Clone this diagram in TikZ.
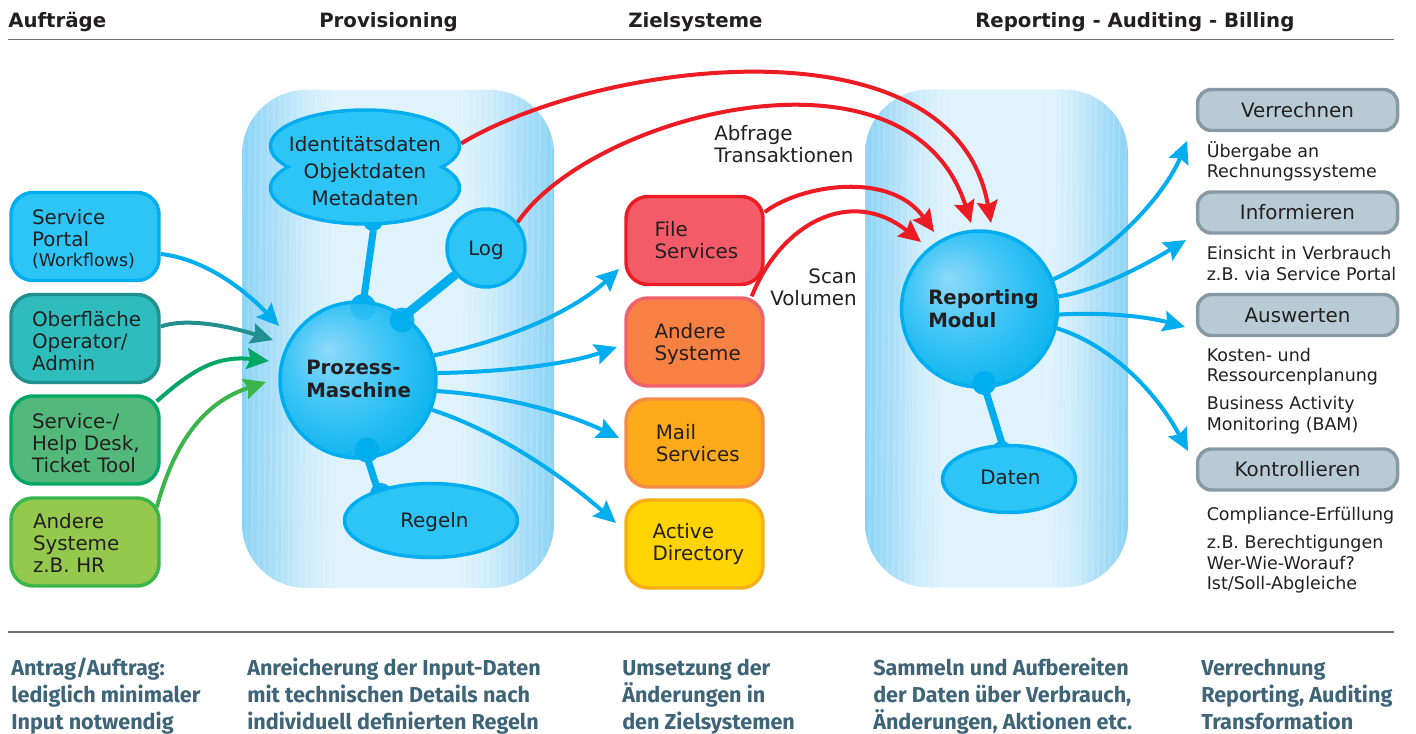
\documentclass[tikz,border=0pt]{standalone}
\usepackage{fontspec}
\setmainfont{DejaVu Sans}
\newfontfamily\metafont{Fira Sans}
\usetikzlibrary{arrows.meta,shapes.geometric,calc}
\definecolor{ink}{HTML}{231F20}
\definecolor{sky}{HTML}{00AEEF}
\definecolor{skyfill}{HTML}{2CC5F6}
\definecolor{pedge}{HTML}{8AD3F5}
\definecolor{pmid}{HTML}{A9DEF8}
\definecolor{plite}{HTML}{CBEBFB}
\definecolor{pcore}{HTML}{E0F3FD}
\definecolor{balla}{HTML}{8EDAF9}
\definecolor{ballb}{HTML}{3FC5F6}
\definecolor{ballc}{HTML}{0FB5EE}
\definecolor{redline}{HTML}{ED1C24}
\definecolor{tealline}{HTML}{21908F}
\definecolor{tealfill}{HTML}{2FBCBC}
\definecolor{greenline}{HTML}{00A663}
\definecolor{greenfill}{HTML}{52B97A}
\definecolor{limeline}{HTML}{39B54A}
\definecolor{limefill}{HTML}{94C94D}
\definecolor{filefill}{HTML}{F45B69}
\definecolor{orangefill}{HTML}{F68143}
\definecolor{orangeline}{HTML}{F0606A}
\definecolor{mailfill}{HTML}{FDAA1A}
\definecolor{mailline}{HTML}{F68B47}
\definecolor{adfill}{HTML}{FFD400}
\definecolor{adline}{HTML}{FBAD17}
\definecolor{greyfill}{HTML}{B8CBD4}
\definecolor{greyline}{HTML}{869AA6}
\definecolor{rulecol}{HTML}{6D6E71}
\definecolor{captioncol}{HTML}{3E6478}
\pgfdeclarehorizontalshading{panelshade}{100bp}{color(0bp)=(pedge); color(25bp)=(pedge); color(30bp)=(pmid); color(35bp)=(plite); color(40bp)=(pcore); color(60bp)=(pcore); color(65bp)=(plite); color(70bp)=(pmid); color(75bp)=(pedge); color(100bp)=(pedge)}
\pgfdeclareradialshading{ballshade}{\pgfpoint{-10bp}{10bp}}{color(0bp)=(balla); color(16bp)=(ballb); color(30bp)=(ballc); color(50bp)=(ballc)}
\pgfdeclarelayer{panels}
\pgfdeclarelayer{edges}
\pgfdeclarelayer{overlay}
\pgfsetlayers{panels,edges,main,overlay}
\newcommand{\bodyfont}{\fontsize{14.9pt}{16.5pt}\selectfont}
\newcommand{\smallfont}{\fontsize{13.1pt}{15.3pt}\selectfont}
\newcommand{\mi}{\hspace*{10.5pt}}
\newcommand{\lf}{\hspace*{6pt}}
\tikzset{
  panel/.style={shape=rectangle,rounded corners=48pt,shading=panelshade,minimum height=498*0.75pt,inner sep=0pt},
  stripes/.style={draw=white,opacity=.16,line width=1.1pt},
  basebox/.style={shape=rectangle,rounded corners=16.5pt,line width=2.6pt,align=left,text=ink,font=\bodyfont,inner ysep=0pt,minimum height=88*0.75pt},
  leftbox/.style={basebox,inner xsep=13*0.75pt,text width=122*0.75pt},
  midbox/.style={basebox,inner xsep=14.5*0.75pt,text width=108*0.75pt},
  greybox/.style={shape=rectangle,rounded corners=10.5pt,line width=2.6pt,fill=greyfill,draw=greyline,text=ink,font=\bodyfont,minimum width=200*0.75pt,minimum height=41*0.75pt,inner sep=0pt},
  ball/.style={shape=circle,draw=sky,line width=2.6pt,shading=ballshade,minimum size=156*0.75pt,inner sep=0pt},
  blob/.style={shape=ellipse,draw=sky,fill=skyfill,line width=2.6pt,inner sep=0pt,text=ink,font=\bodyfont},
  label/.style={text=ink,font=\bodyfont,align=left,inner sep=0pt},
  note/.style={text=ink,font=\smallfont,align=left,anchor=west,inner sep=0pt},
  head/.style={text=ink,font=\fontsize{14.8pt}{16pt}\selectfont\bfseries,anchor=west,inner sep=0pt},
  caption/.style={text=captioncol,font=\metafont\fontsize{16.2pt}{20.3pt}\selectfont\bfseries,align=left,anchor=west,inner sep=0pt},
  sphtext/.style={text=ink,font=\fontsize{14.8pt}{17.2pt}\selectfont\bfseries,align=left,anchor=west,inner sep=0pt},
  flow/.style={line width=3pt,-{Stealth[length=16.5pt,width=15.5pt,inset=2.5pt]}},
  stem/.style={draw=sky,line width=5.25pt},
  rulebar/.style={draw=rulecol,line width=1pt},
}
\begin{document}
\begin{tikzpicture}[x=0.75pt,y=-0.75pt]
\useasboundingbox (0,0) rectangle (1416,734);
% panels
\begin{pgfonlayer}{panels}
\node[panel,minimum width=312*0.75pt] (panelA) at (398,339) {};
\node[panel,minimum width=263*0.75pt] (panelB) at (996.5,338.5) {};
\begin{scope}
\clip[rounded corners=48pt] (242,90) rectangle (554,588);
\foreach \s in {0,...,15}{\draw[stripes] ({244+6*\s},90) -- ({240+6*\s},588); \draw[stripes] ({552-6*\s},90) -- ({548-6*\s},588);}
\end{scope}
\begin{scope}
\clip[rounded corners=48pt] (865,89.5) rectangle (1128,587.5);
\foreach \s in {0,...,13}{\draw[stripes] ({867+6*\s},89) -- ({863+6*\s},588); \draw[stripes] ({1126-6*\s},89) -- ({1122-6*\s},588);}
\end{scope}
\end{pgfonlayer}
% headings and rules
\node[head] (hA) at (8,22) {Aufträge};
\node[head] (hB) at (319,22) {Provisioning};
\node[head] (hC) at (628,22) {Zielsysteme};
\node[head] (hD) at (975,22) {Reporting - Auditing - Billing};
\coordinate (ruleAl) at (8,39.5);
\coordinate (ruleAr) at (1394,39.5);
\coordinate (ruleBl) at (8,632);
\coordinate (ruleBr) at (1394,632);
\draw[rulebar] (ruleAl) -- (ruleAr);
\draw[rulebar] (ruleBl) -- (ruleBr);
% left boxes
\node[leftbox,fill=skyfill,draw=sky] (portal) at (85,236.5) {\lf\rule{0pt}{15.4pt}Service\\\lf Portal\\[-1pt]\lf{\smallfont (Workflows)}};
\node[leftbox,fill=tealfill,draw=tealline] (oper) at (85,338.5) {\lf\rule{0pt}{15.4pt}Oberfläche\\\lf Operator/\\\lf Admin};
\node[leftbox,fill=greenfill,draw=greenline] (desk) at (85,440) {\lf\rule{0pt}{15.4pt}Service-/\\\lf Help Desk,\\\lf Ticket Tool};
\node[leftbox,fill=limefill,draw=limeline] (hr) at (85,542) {\hspace*{6.75pt}\rule{0pt}{12.4pt}Andere\\\hspace*{6.75pt}Systeme\\\hspace*{6.75pt}z.B. HR};
% data cloud
\path[draw=sky,line width=2.6pt,fill=skyfill] (365,146) ellipse [x radius=94.5,y radius=36] (365,188) ellipse [x radius=94.5,y radius=36];
\path[fill=skyfill] (365,146) ellipse [x radius=92.5,y radius=34] (365,188) ellipse [x radius=92.5,y radius=34];
\node[shape=rectangle,minimum width=192*0.75pt,minimum height=118*0.75pt,inner sep=0pt,align=center,text=ink,font=\fontsize{14.9pt}{20.5pt}\selectfont] (data) at (365,171) {Identitätsdaten\\Objektdaten\\Metadaten};
% inner nodes
\node[shape=circle,draw=sky,fill=skyfill,line width=2.6pt,minimum size=78*0.75pt,inner sep=0pt,text=ink,font=\bodyfont] (log) at (486,248) {\rule{0pt}{14.3pt}Log};
\node[ball] (proz) at (358,380) {};
\node[blob,minimum width=173*0.75pt,minimum height=74*0.75pt] (regeln) at (431,520.5) {\hspace*{5pt}\rule{0pt}{14.3pt}Regeln};
\node[ball] (rep) at (979.5,309) {};
\node[blob,minimum width=133*0.75pt,minimum height=67*0.75pt] (daten) at (1009,479) {\hspace*{2pt}\rule[-3pt]{0pt}{3pt}Daten};
\node[sphtext] (prozT) at (306,378.5) {Prozess-\\Maschine};
\node[sphtext] (repT) at (928,308.5) {Reporting\\Modul};
% target boxes
\node[midbox,fill=filefill,draw=redline] (file) at (694.5,240.5) {\mi File\\\mi Services};
\node[midbox,fill=orangefill,draw=orangeline] (other) at (694.5,342) {\mi\rule{0pt}{14.7pt}Andere\\\mi Systeme};
\node[midbox,fill=mailfill,draw=mailline] (mail) at (694.5,443) {\hspace*{11.5pt}Mail\\\hspace*{11.5pt}Services};
\node[midbox,fill=adfill,draw=adline] (ad) at (694.5,544) {\hspace*{9pt}Active\\\hspace*{9pt}Directory};
% grey boxes
\node[greybox] (verr) at (1297.5,110) {Verrechnen};
\node[greybox] (info) at (1297.5,212.5) {Informieren};
\node[greybox] (ausw) at (1297.5,315) {Auswerten};
\node[greybox] (kont) at (1297.5,469.5) {Kontrollieren};
% free labels
\node[label,anchor=west] (abfr) at (714,144) {Abfrage\\Transaktionen};
\node[label,anchor=east,align=right] (scan) at (857,287) {Scan\\Volumen};
% notes
\node[note] (n1) at (1206.5,161.5) {Übergabe an\\Rechnungssysteme};
\node[note] (n2) at (1206.5,263.5) {Einsicht in Verbrauch\\z.B. via Service Portal};
\node[note] (n3) at (1206.5,366.5) {Kosten- und\\Ressourcenplanung};
\node[note] (n4) at (1206.5,415) {Business Activity\\Monitoring (BAM)};
\node[note] (n5) at (1206.5,516) {Compliance-Erfüllung};
\node[note] (n6) at (1206.5,564.5) {z.B. Berechtigungen\\Wer-Wie-Worauf?\\Ist/Soll-Abgleiche};
% captions
\node[caption] (c1) at (11,696.5) {Antrag/Auftrag:\\lediglich minimaler\\Input notwendig};
\node[caption] (c2) at (247,696.5) {Anreicherung der Input-Daten\\mit technischen Details nach\\individuell definierten Regeln};
\node[caption] (c3) at (622,696.5) {Umsetzung der\\Änderungen in\\den Zielsystemen};
\node[caption] (c4) at (873,696.5) {Sammeln und Aufbereiten\\der Daten über Verbrauch,\\Änderungen, Aktionen etc.};
\node[caption] (c5) at (1201,696.5) {Verrechnung\\Reporting, Auditing\\Transformation\vphantom{g}};
% arrow tips
\coordinate (tipPortal) at (279,326);
\coordinate (tipOper) at (273,340);
\coordinate (tipDesk) at (269,361);
\coordinate (tipHr) at (266,382);
\coordinate (tipFile) at (619,269);
\coordinate (tipOther) at (617,347);
\coordinate (tipMail) at (619,438);
\coordinate (tipAd) at (616,523);
\coordinate (tipRepA) at (991,223);
\coordinate (tipRepB) at (971,223);
\coordinate (tipRepC) at (934,232);
\coordinate (tipRepD) at (921,242);
\coordinate (tipVerr) at (1187,141);
\coordinate (tipInfo) at (1186,240);
\coordinate (tipAusw) at (1185,327);
\coordinate (tipKont) at (1188,451);
\begin{pgfonlayer}{edges}
% joints below the bodies
\fill[sky] (373,221) circle [radius=10];
\fill[sky] (363,307) circle [radius=13];
\fill[sky] (381,494) circle [radius=11];
\fill[sky] (1002,451) circle [radius=10];
% stems
\draw[stem] (data.-82) -- (proz.86);
\draw[stem,line width=6.75pt] (log.221) -- (proz.54);
\draw[stem] (proz.-83) -- (regeln.150);
\draw[stem] (rep.-86) -- (daten.101);
% incoming
\draw[flow,draw=sky] (portal.-13) .. controls (205,259) and (245,290) .. (tipPortal);
\draw[flow,draw=tealline] (oper.9) .. controls (185,318) and (225,325) .. (tipOper);
\draw[flow,draw=greenline] ([shift={(-4,7)}]desk.north east) .. controls (190,372) and (215,355) .. (tipDesk);
\draw[flow,draw=limeline] ([shift={(-4,11)}]hr.north east) .. controls (175,440) and (205,402) .. (tipHr);
% outgoing from process engine
\draw[flow,draw=sky] (proz.18) .. controls (510,340) and (575,310) .. (tipFile);
\draw[flow,draw=sky] (proz.5) .. controls (500,372) and (565,365) .. (tipOther);
\draw[flow,draw=sky] (proz.-8) .. controls (500,395) and (565,412) .. (tipMail);
\draw[flow,draw=sky] (proz.-22) .. controls (500,432) and (565,478) .. (tipAd);
% red
\draw[flow,draw=redline] (data.16.4) .. controls (600,60) and (955,15) .. (tipRepA);
\draw[flow,draw=redline] (log.39) .. controls (590,115) and (910,30) .. (tipRepB);
\draw[flow,draw=redline] (file.22.6) .. controls (800,185) and (890,170) .. (tipRepC);
\draw[flow,draw=redline] ([shift={(-13,0)}]other.north east) .. controls (780,225) and (850,185) .. (tipRepD);
% outgoing from reporting
\draw[flow,draw=sky] (rep.22) .. controls (1110,255) and (1165,195) .. (tipVerr);
\draw[flow,draw=sky] (rep.9) .. controls (1100,290) and (1150,262) .. (tipInfo);
\draw[flow,draw=sky] (rep.-4) .. controls (1100,312) and (1145,316) .. (tipAusw);
\draw[flow,draw=sky] (rep.-14) .. controls (1110,345) and (1155,390) .. (tipKont);
\end{pgfonlayer}
% joints over the spheres
\begin{pgfonlayer}{overlay}
\fill[sky,opacity=.3] (363,307) circle [radius=13];
\fill[sky,opacity=.9] (402,320) circle [radius=12.5];
\fill[sky,opacity=.95] (367,450) circle [radius=12.5];
\fill[sky] (984,383) circle [radius=12];
\end{pgfonlayer}
\end{tikzpicture}
\end{document}
